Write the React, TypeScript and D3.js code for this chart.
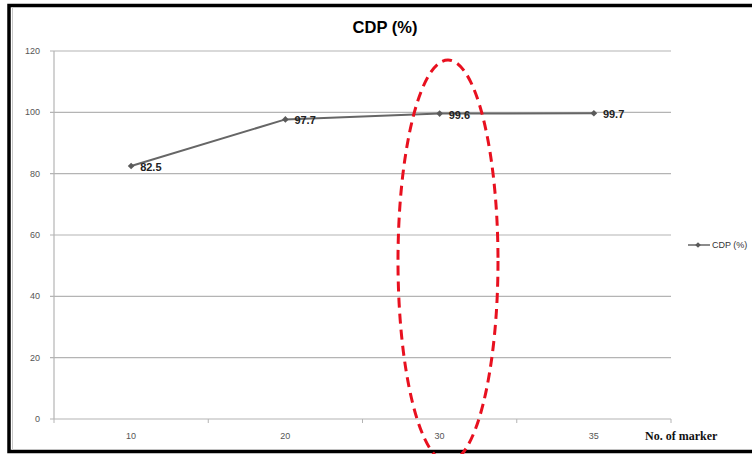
import React from "react";
import * as d3 from "d3";

const categories = ["10", "20", "30", "35"];
const cdpValues = [82.5, 97.7, 99.6, 99.7];
const yTicks = [0, 20, 40, 60, 80, 100, 120];
const seriesName = "CDP (%)";
const chartTitle = "CDP (%)";
const xAxisTitle = "No. of marker";

const W = 752;
const H = 454;
const plot = { left: 54, right: 671, top: 51, bottom: 419 };

export default function App() {
  const x = d3.scaleBand<string>().domain(categories).range([plot.left, plot.right]);
  const y = d3.scaleLinear().domain([0, 120]).range([plot.bottom, plot.top]);
  const cx = (c: string) => (x(c) as number) + x.bandwidth() / 2;
  const line = d3
    .line<number>()
    .x((_, i) => cx(categories[i]))
    .y((d) => y(d));
  const diamond = d3.symbol().type(d3.symbolSquare).size(22)() as string;
  const legendDiamond = d3.symbol().type(d3.symbolSquare).size(16)() as string;
  const font = "Liberation Sans, Arial, sans-serif";
  const boundaries = [...categories.map((c) => x(c) as number), plot.right];

  return (
    <svg
      width={W}
      height={H}
      style={{ position: "absolute", left: 0, top: 0, background: "#fff" }}
    >
      <rect x={0} y={0} width={W} height={H} fill="#fff" />
      {/* outer frame */}
      <rect x={9} y={5.5} width={760} height={446} fill="none" stroke="#000" strokeWidth={3.5} />
      <line x1={12.5} y1={7} x2={12.5} y2={450} stroke="#c8c8c8" strokeWidth={1} />

      {/* title */}
      <text
        x={385}
        y={33}
        textAnchor="middle"
        fontFamily={font}
        fontWeight="bold"
        fontSize={16.5}
        fill="#000"
      >
        {chartTitle}
      </text>

      {/* gridlines */}
      {yTicks.map((t) => (
        <g key={t}>
          <line
            x1={plot.left - 4}
            x2={plot.right}
            y1={y(t)}
            y2={y(t)}
            stroke="#b4b4b4"
            strokeWidth={1.2}
          />
          <text
            x={40}
            y={y(t) + 3}
            textAnchor="end"
            fontFamily={font}
            fontSize={9}
            fill="#555"
          >
            {t}
          </text>
        </g>
      ))}
      {/* y axis line */}
      <line x1={plot.left} x2={plot.left} y1={plot.top} y2={plot.bottom} stroke="#b4b4b4" strokeWidth={1.2} />
      {/* x ticks */}
      {boundaries.map((b, i) => (
        <line key={i} x1={b} x2={b} y1={plot.bottom} y2={plot.bottom + 4} stroke="#b4b4b4" strokeWidth={1} />
      ))}
      {categories.map((c) => (
        <text
          key={c}
          x={cx(c)}
          y={439}
          textAnchor="middle"
          fontFamily={font}
          fontSize={9}
          fill="#555"
        >
          {c}
        </text>
      ))}
      <text
        x={645}
        y={440}
        fontFamily="Liberation Serif, Times New Roman, serif"
        fontWeight="bold"
        fontSize={12}
        fill="#111"
      >
        {xAxisTitle}
      </text>

      {/* series */}
      <path d={line(cdpValues) as string} fill="none" stroke="#666" strokeWidth={2} />
      {cdpValues.map((v, i) => (
        <g key={i}>
          <path
            d={diamond}
            transform={`translate(${cx(categories[i])},${y(v)}) rotate(45)`}
            fill="#5a5a5a"
          />
          <text
            x={cx(categories[i]) + 9}
            y={y(v) + 5}
            fontFamily={font}
            fontWeight="bold"
            fontSize={11}
            fill="#222"
          >
            {v.toFixed(1)}
          </text>
        </g>
      ))}

      {/* legend */}
      <line x1={688} x2={710} y1={245} y2={245} stroke="#666" strokeWidth={1.5} />
      <path d={legendDiamond} transform="translate(698,245) rotate(45)" fill="#5a5a5a" />
      <text x={712} y={248} fontFamily={font} fontSize={9} fill="#333">
        {seriesName}
      </text>

      {/* red dashed highlight ellipse */}
      <ellipse
        cx={448}
        cy={261}
        rx={50}
        ry={201}
        fill="none"
        stroke="#e8101f"
        strokeWidth={3}
        strokeDasharray="10 6"
      />
    </svg>
  );
}
